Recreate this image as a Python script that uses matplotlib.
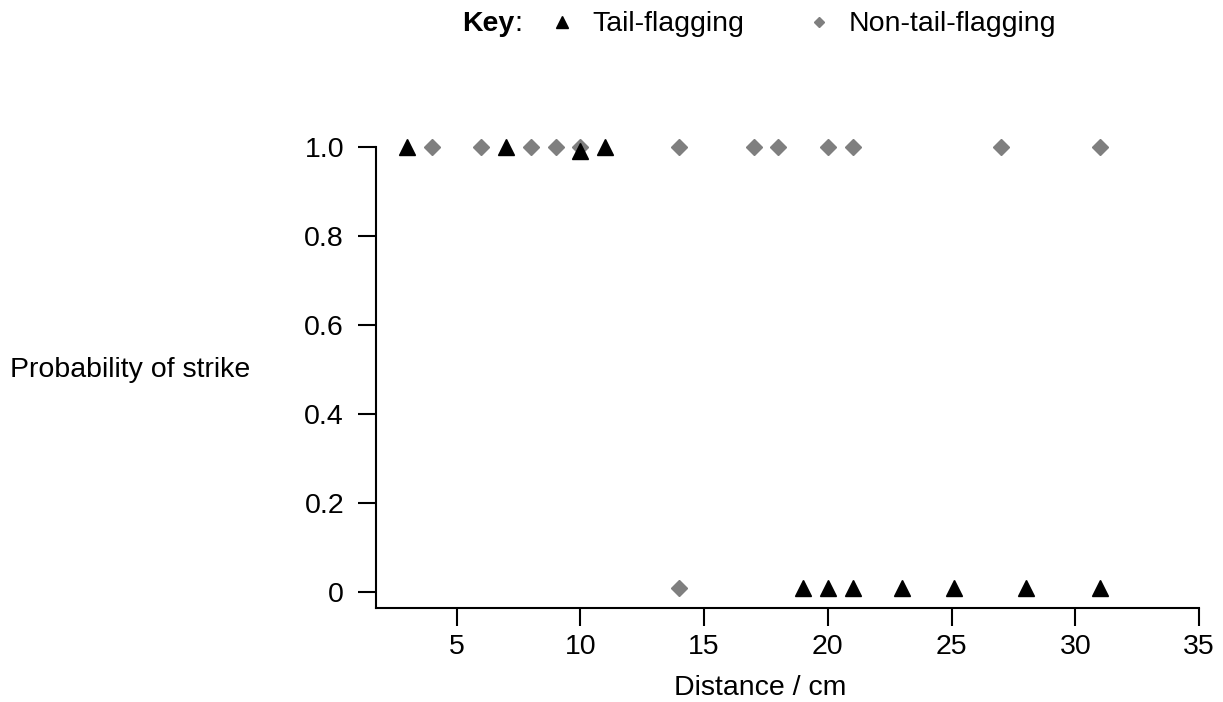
import matplotlib
matplotlib.use("Agg")
import matplotlib.pyplot as plt
from matplotlib.lines import Line2D

plt.rcParams['font.family'] = ['Liberation Sans', 'DejaVu Sans']

# Data
tail_x = [3, 7, 10, 11, 19, 20, 21, 23, 25.1, 28, 31]
tail_y = [1.0, 1.0, 0.99, 1.0, 0.01, 0.01, 0.01, 0.01, 0.01, 0.01, 0.01]
non_x = [4, 6, 8, 9, 10, 14, 17, 18, 20, 21, 27, 31, 14]
non_y = [1.0] * 12 + [0.01]

xticks = [5, 10, 15, 20, 25, 30, 35]
yticks = [0, 0.2, 0.4, 0.6, 0.8, 1.0]
ytick_labels = ['0', '0.2', '0.4', '0.6', '0.8', '1.0']

FS = 20.5
W, H = 1223, 702
fig = plt.figure(figsize=(W / 100, H / 100), dpi=100)
ax = fig.add_axes([376 / W, 1 - 608 / H, (1199 - 376) / W, (608 - 147) / H])

grey = '#7f7f7f'
ax.plot(non_x, non_y, linestyle='none', marker='D', markersize=8, color=grey, clip_on=False, zorder=3)
ax.plot(tail_x, tail_y, linestyle='none', marker='^', markersize=11, color='black', clip_on=False, zorder=4)

ax.set_xlim(1.74, 35)
ax.set_ylim(-0.036, 1.0)
ax.set_xticks(xticks)
ax.set_yticks(yticks)
ax.set_yticklabels(ytick_labels)
ax.spines['top'].set_visible(False)
ax.spines['right'].set_visible(False)
for s in ['left', 'bottom']:
    ax.spines[s].set_linewidth(1.5)
ax.tick_params(axis='x', direction='out', length=13, width=1.5, labelsize=FS, pad=6)
ax.tick_params(axis='y', direction='out', length=13, width=1.5, labelsize=FS, pad=10)

fig.text(760 / W, 1 - 688 / H, 'Distance / cm', fontsize=FS, ha='center', va='center')
fig.text(10 / W, 1 - 370 / H, 'Probability of strike', fontsize=FS, ha='left', va='center')

# Key
ky = 1 - 24 / H
t = fig.text(462 / W, ky, 'Key', fontsize=FS, fontweight='bold', ha='left', va='center')
fig.canvas.draw()
bb = t.get_window_extent()
fig.text(bb.x1 / W, ky, ':', fontsize=FS, ha='left', va='center')
fig.add_artist(Line2D([562 / W], [1 - 22 / H], marker='^', markersize=9, color='black', linestyle='none', transform=fig.transFigure))
fig.text(592 / W, ky, 'Tail-flagging', fontsize=FS, ha='left', va='center')
fig.add_artist(Line2D([819 / W], [1 - 22 / H], marker='D', markersize=5.5, color=grey, linestyle='none', transform=fig.transFigure))
fig.text(849 / W, ky, 'Non-tail-flagging', fontsize=FS, ha='left', va='center')

fig.savefig('out.png', dpi=100)
